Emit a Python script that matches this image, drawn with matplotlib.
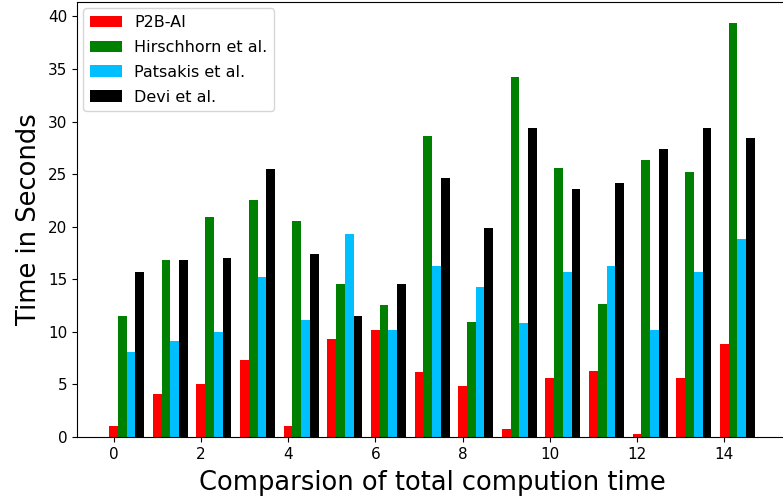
import matplotlib.pyplot as plt
import numpy as np

groups = np.arange(15)
p2b_ai = [1.05, 4.1, 5.0, 7.3, 1.05, 9.3, 10.2, 6.2, 4.85, 0.73, 5.65, 6.25, 0.3, 5.65, 8.8]
hirschhorn = [11.5, 16.85, 20.95, 22.5, 20.5, 14.6, 12.6, 28.6, 10.9, 34.25, 25.55, 12.65, 26.3, 25.2, 39.4]
patsakis = [8.05, 9.1, 10.0, 15.2, 11.1, 19.3, 10.2, 16.3, 14.3, 10.8, 15.65, 16.3, 10.2, 15.65, 18.85]
devi = [15.65, 16.85, 17.0, 25.5, 17.45, 11.55, 14.6, 24.6, 19.9, 29.35, 23.6, 24.2, 27.4, 29.4, 28.45]

fig = plt.figure(figsize=(7.83, 4.99), dpi=100)
ax = fig.add_axes([0.0983, 0.1242, 0.907, 0.8717])

w = 0.2
ax.bar(groups, p2b_ai, w, color='red', label='P2B-AI')
ax.bar(groups + w, hirschhorn, w, color='green', label='Hirschhorn et al.')
ax.bar(groups + 2 * w, patsakis, w, color='deepskyblue', label='Patsakis et al.')
ax.bar(groups + 3 * w, devi, w, color='black', label='Devi et al.')

ax.set_xlabel('Comparsion of total compution time', fontsize=18.5, labelpad=6)
ax.set_ylabel('Time in Seconds', fontsize=18.5, labelpad=4)
ax.tick_params(labelsize=11)
ax.legend(loc='upper left', fontsize=11.5, borderaxespad=0.4, labelspacing=0.62)

fig.savefig('out.png')
